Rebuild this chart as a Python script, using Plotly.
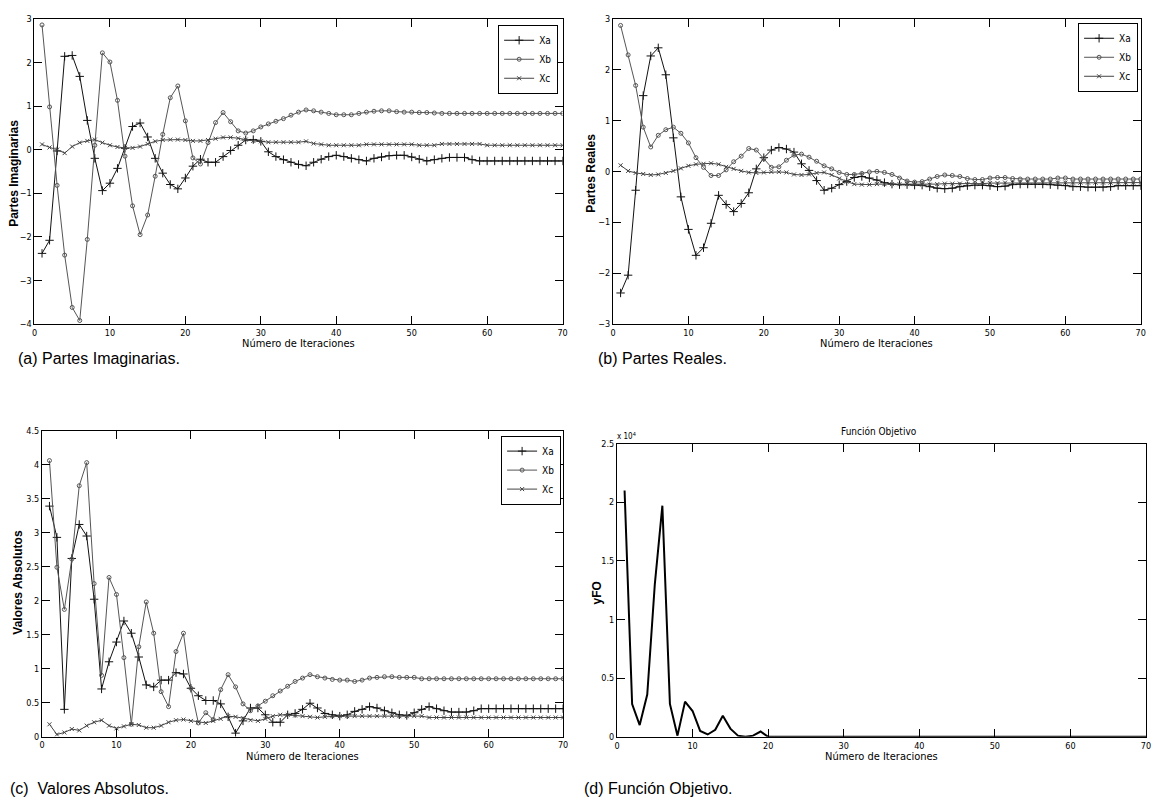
import plotly.graph_objects as go

W, H = 1155, 808

iters = list(range(1, 71))

# (a) Partes Imaginarias
imag_xa = [-2.38, -2.08, -0.03, 2.14, 2.16, 1.68, 0.67, -0.2, -0.94, -0.77,
           -0.43, 0.03, 0.53, 0.61, 0.29, -0.2, -0.54, -0.8, -0.9, -0.65,
           -0.38, -0.22, -0.29, -0.29, -0.16, -0.02, 0.1, 0.22, 0.23, 0.19,
           -0.05, -0.16, -0.23, -0.29, -0.34, -0.37, -0.29, -0.22, -0.16, -0.13,
           -0.16, -0.2, -0.23, -0.26, -0.2, -0.17, -0.14, -0.13, -0.13, -0.17,
           -0.22, -0.26, -0.23, -0.2, -0.18, -0.18, -0.18, -0.23, -0.26, -0.26,
           -0.26, -0.26, -0.26, -0.26, -0.26, -0.26, -0.26, -0.26, -0.26, -0.26]
imag_xb = [2.86, 0.98, -0.82, -2.42, -3.62, -3.92, -2.06, 0.1, 2.22, 2.01,
           1.13, -0.15, -1.29, -1.95, -1.5, -0.61, 0.35, 1.19, 1.46, 0.66,
           -0.19, -0.33, 0.16, 0.62, 0.85, 0.64, 0.43, 0.38, 0.43, 0.52,
           0.59, 0.65, 0.71, 0.79, 0.86, 0.91, 0.89, 0.86, 0.83, 0.8,
           0.8, 0.8, 0.83, 0.86, 0.88, 0.89, 0.89, 0.87, 0.86, 0.86,
           0.85, 0.85, 0.84, 0.83, 0.83, 0.83, 0.83, 0.83, 0.83, 0.83,
           0.83, 0.83, 0.83, 0.83, 0.83, 0.83, 0.83, 0.83, 0.83, 0.83]
imag_xc = [0.12, 0.05, 0.0, -0.08, 0.07, 0.16, 0.2, 0.23, 0.16, 0.1,
           0.06, 0.04, 0.04, 0.07, 0.13, 0.19, 0.22, 0.23, 0.23, 0.22,
           0.2, 0.2, 0.22, 0.25, 0.28, 0.28, 0.26, 0.23, 0.2, 0.19,
           0.17, 0.17, 0.17, 0.17, 0.17, 0.19, 0.14, 0.12, 0.1, 0.1,
           0.1, 0.1, 0.1, 0.12, 0.12, 0.12, 0.12, 0.12, 0.12, 0.12,
           0.1, 0.1, 0.1, 0.13, 0.13, 0.13, 0.13, 0.13, 0.13, 0.1,
           0.1, 0.1, 0.1, 0.1, 0.1, 0.1, 0.1, 0.1, 0.1, 0.1]

# (b) Partes Reales
real_xa = [-2.39, -2.04, -0.37, 1.49, 2.27, 2.43, 1.9, 0.66, -0.5, -1.14,
           -1.65, -1.5, -1.02, -0.47, -0.65, -0.79, -0.63, -0.42, 0.05, 0.27,
           0.42, 0.47, 0.44, 0.38, 0.15, 0.02, -0.18, -0.37, -0.33, -0.26,
           -0.2, -0.12, -0.1, -0.13, -0.17, -0.22, -0.25, -0.26, -0.26, -0.27,
           -0.27, -0.3, -0.33, -0.34, -0.33, -0.3, -0.28, -0.27, -0.27, -0.28,
           -0.3, -0.29, -0.26, -0.25, -0.25, -0.25, -0.25, -0.26, -0.27, -0.28,
           -0.3, -0.3, -0.31, -0.31, -0.31, -0.3, -0.28, -0.28, -0.28, -0.28]
real_xb = [2.87, 2.29, 1.69, 0.87, 0.48, 0.71, 0.82, 0.87, 0.75, 0.56,
           0.27, 0.08, -0.08, -0.08, 0.03, 0.19, 0.3, 0.45, 0.42, 0.25,
           0.08, 0.09, 0.22, 0.32, 0.34, 0.28, 0.2, 0.11, 0.05, -0.02,
           -0.06, -0.06, -0.04, -0.01, 0.0, -0.02, -0.06, -0.13, -0.19, -0.21,
           -0.2, -0.15, -0.1, -0.07, -0.08, -0.1, -0.14, -0.16, -0.16, -0.13,
           -0.12, -0.12, -0.14, -0.15, -0.15, -0.15, -0.15, -0.15, -0.13, -0.13,
           -0.15, -0.15, -0.15, -0.15, -0.15, -0.15, -0.15, -0.15, -0.15, -0.15]
real_xc = [0.12, 0.01, -0.03, -0.05, -0.07, -0.06, -0.03, 0.01, 0.06, 0.11,
           0.14, 0.15, 0.16, 0.14, 0.09, 0.05, 0.01, -0.02, -0.03, -0.02,
           -0.01, -0.01, -0.02, -0.06, -0.07, -0.06, -0.03, -0.02, -0.07, -0.14,
           -0.2, -0.25, -0.26, -0.26, -0.25, -0.25, -0.25, -0.25, -0.25, -0.25,
           -0.26, -0.26, -0.25, -0.24, -0.24, -0.24, -0.25, -0.25, -0.24, -0.23,
           -0.23, -0.22, -0.22, -0.22, -0.22, -0.22, -0.22, -0.22, -0.22, -0.22,
           -0.22, -0.22, -0.22, -0.22, -0.22, -0.22, -0.22, -0.22, -0.22, -0.22]

# (c) Valores Absolutos
abs_xa = [3.39, 2.93, 0.4, 2.62, 3.12, 2.95, 2.02, 0.7, 1.1, 1.39,
          1.7, 1.52, 1.17, 0.76, 0.73, 0.83, 0.83, 0.94, 0.92, 0.71,
          0.6, 0.53, 0.53, 0.48, 0.29, 0.05, 0.23, 0.42, 0.42, 0.32,
          0.21, 0.21, 0.32, 0.34, 0.4, 0.49, 0.42, 0.34, 0.32, 0.3,
          0.32, 0.37, 0.4, 0.44, 0.42, 0.38, 0.35, 0.32, 0.31, 0.35,
          0.4, 0.44, 0.41, 0.38, 0.36, 0.36, 0.36, 0.38, 0.41, 0.41,
          0.41, 0.41, 0.41, 0.41, 0.41, 0.41, 0.41, 0.41, 0.41, 0.41]
abs_xb = [4.06, 2.49, 1.87, 2.61, 3.69, 4.03, 2.25, 0.9, 2.34, 2.09,
          1.16, 0.18, 1.32, 1.98, 1.52, 0.66, 0.44, 1.25, 1.52, 0.71,
          0.2, 0.35, 0.25, 0.69, 0.91, 0.73, 0.48, 0.38, 0.45, 0.52,
          0.6, 0.67, 0.74, 0.81, 0.86, 0.91, 0.88, 0.86, 0.84, 0.83,
          0.83, 0.81, 0.83, 0.86, 0.87, 0.88, 0.88, 0.87, 0.87, 0.87,
          0.85, 0.85, 0.85, 0.85, 0.85, 0.85, 0.85, 0.85, 0.85, 0.85,
          0.85, 0.85, 0.85, 0.85, 0.85, 0.85, 0.85, 0.85, 0.85, 0.85]
abs_xc = [0.18, 0.03, 0.06, 0.11, 0.09, 0.16, 0.21, 0.24, 0.16, 0.12,
          0.15, 0.18, 0.17, 0.13, 0.13, 0.16, 0.21, 0.24, 0.25, 0.23,
          0.21, 0.2, 0.23, 0.26, 0.3, 0.29, 0.27, 0.24, 0.23, 0.26,
          0.3, 0.32, 0.32, 0.31, 0.3, 0.29, 0.28, 0.29, 0.3, 0.3,
          0.3, 0.3, 0.3, 0.3, 0.3, 0.3, 0.3, 0.3, 0.3, 0.3,
          0.3, 0.28, 0.28, 0.28, 0.28, 0.28, 0.28, 0.28, 0.28, 0.28,
          0.28, 0.28, 0.28, 0.28, 0.28, 0.28, 0.28, 0.28, 0.28, 0.28]

# (d) Función Objetivo
yfo = [21000, 2800, 1000, 3600, 13000, 19700, 2800, 100, 3000, 2200,
       500, 200, 600, 1800, 700, 100, 0, 100, 450, 0] + [0] * 50

series_names = ["Xa", "Xb", "Xc"]
y_ticks_a = [-4, -3, -2, -1, 0, 1, 2, 3]
y_ticks_b = [-3, -2, -1, 0, 1, 2, 3]
y_ticks_c = [0, 0.5, 1, 1.5, 2, 2.5, 3, 3.5, 4, 4.5]
y_ticks_d = [0, 5000, 10000, 15000, 20000, 25000]
y_ticktext_d = ["0", "0.5", "1", "1.5", "2", "2.5"]
x_ticks = [0, 10, 20, 30, 40, 50, 60, 70]

NARROW = "Liberation Sans Narrow, Arial Narrow, DejaVu Sans Condensed, sans-serif"
SANS = "Liberation Sans, Arial, sans-serif"

styles = [
    dict(color="#111111", symbol="cross-thin", size=6),
    dict(color="#555555", symbol="circle-open", size=4),
    dict(color="#444444", symbol="x-thin", size=4),
]


def px_x(p):
    return p / W


def px_y(p):
    return 1 - p / H


panels = {
    "a": dict(x0=31.7, x1=563.5, y0=14, y1=323),
    "b": dict(x0=614.3, x1=1145.7, y0=14, y1=323),
    "c": dict(x0=39.3, x1=564.0, y0=431, y1=740.7),
    "d": dict(x0=618.3, x1=1151.0, y0=444, y1=741),
}

fig = go.Figure()

groups = [
    ("", "", [imag_xa, imag_xb, imag_xc], "legend"),
    ("2", "2", [real_xa, real_xb, real_xc], "legend2"),
    ("3", "3", [abs_xa, abs_xb, abs_xc], "legend3"),
]
for xs, ys, data, leg in groups:
    for name, vals, st in zip(series_names, data, styles):
        fig.add_trace(go.Scatter(
            x=iters, y=vals, name=name, mode="lines+markers",
            xaxis="x" + xs, yaxis="y" + ys, legend=leg,
            line=dict(color=st["color"], width=1),
            marker=dict(symbol=st["symbol"], size=st["size"], color=st["color"],
                        line=dict(color=st["color"], width=1)),
        ))

fig.add_trace(go.Scatter(
    x=iters, y=yfo, mode="lines", xaxis="x4", yaxis="y4", showlegend=False,
    line=dict(color="#000000", width=2),
))

axis_common = dict(
    showline=True, linecolor="#000000", linewidth=1, mirror="ticks",
    ticks="inside", ticklen=8, tickcolor="#000000", tickwidth=1,
    showgrid=False, zeroline=False,
    tickfont=dict(family=NARROW, size=9, color="#000000"),
)

layout = dict(
    width=W, height=H, margin=dict(l=0, r=0, t=0, b=0),
    paper_bgcolor="white", plot_bgcolor="white",
    font=dict(family=NARROW, color="#000000"),
)

keys = ["a", "b", "c", "d"]
suffix = ["", "2", "3", "4"]
yt = [(y_ticks_a, None), (y_ticks_b, None), (y_ticks_c, None), (y_ticks_d, y_ticktext_d)]
yr = [[-4, 3], [-3, 3], [0, 4.5], [0, 25000]]
for k, s, (tv, tt), r in zip(keys, suffix, yt, yr):
    p = panels[k]
    xa = dict(axis_common, domain=[px_x(p["x0"]), px_x(p["x1"])], range=[0, 70],
              tickvals=x_ticks, anchor="y" + s, ticklabelstandoff=0)
    ya = dict(axis_common, domain=[px_y(p["y1"]), px_y(p["y0"])], range=r,
              tickvals=tv, anchor="x" + s, ticklabelstandoff=0)
    if tt is not None:
        ya["ticktext"] = tt
    layout["xaxis" + s] = xa
    layout["yaxis" + s] = ya

leg_common = dict(
    bgcolor="white", bordercolor="#000000", borderwidth=1,
    font=dict(family=NARROW, size=10, color="#000000"),
    xanchor="right", yanchor="top", tracegroupgap=0, itemwidth=30,
)
layout["legend"] = dict(leg_common, x=px_x(559), y=px_y(20))
layout["legend2"] = dict(leg_common, x=px_x(1143), y=px_y(18))
layout["legend3"] = dict(leg_common, x=px_x(562), y=px_y(436))

annotations = []
# x-axis titles
for k in keys:
    p = panels[k]
    annotations.append(dict(
        text="Número de Iteraciones", x=px_x((p["x0"] + p["x1"]) / 2),
        y=px_y(p["y1"] + 20), xref="paper", yref="paper", showarrow=False,
        xanchor="center", yanchor="middle",
        font=dict(family=NARROW, size=11, color="#000000"),
    ))
# y-axis titles
ytitles = [("Partes Imaginarias", 11, 170), ("Partes Reales", 592, 170),
           ("Valores Absolutos", 15, 584), ("yFO", 598, 595)]
for txt, xc, yc in ytitles:
    annotations.append(dict(
        text="<b>" + txt + "</b>", x=px_x(xc), y=px_y(yc), xref="paper", yref="paper",
        showarrow=False, textangle=-90, xanchor="center", yanchor="middle",
        font=dict(family=SANS, size=12, color="#000000"),
    ))
# (d) title and exponent
annotations.append(dict(
    text="Función Objetivo", x=px_x(882), y=px_y(432), xref="paper", yref="paper",
    showarrow=False, xanchor="center", yanchor="middle",
    font=dict(family=NARROW, size=10, color="#000000"),
))
annotations.append(dict(
    text="x 10<sup>4</sup>", x=px_x(616), y=px_y(436), xref="paper", yref="paper",
    showarrow=False, xanchor="left", yanchor="middle",
    font=dict(family=NARROW, size=8, color="#000000"),
))
# captions
captions = [("(a) Partes Imaginarias.", 13, 358), ("(b) Partes Reales.", 597, 358),
            ("(c)\u00a0 Valores Absolutos.", 5, 793), ("(d) Función Objetivo.", 583, 793)]
for txt, xl, yc in captions:
    annotations.append(dict(
        text=txt, x=px_x(xl), y=px_y(yc), xref="paper", yref="paper",
        showarrow=False, xanchor="left", yanchor="middle",
        font=dict(family=SANS, size=16, color="#000000"),
    ))
layout["annotations"] = annotations

fig.update_layout(**layout)
fig.write_html("out.html")
